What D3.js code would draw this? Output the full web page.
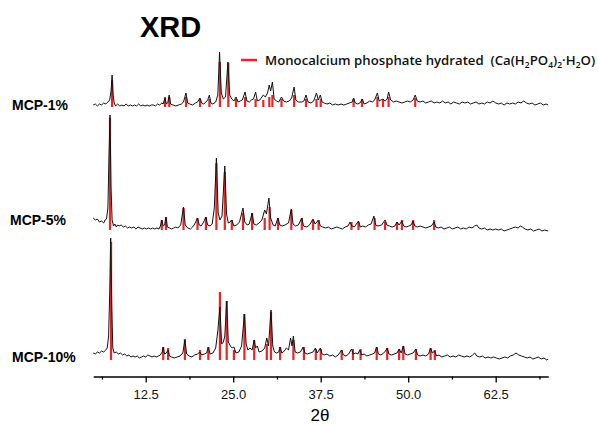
<!DOCTYPE html>
<html>
<head>
<meta charset="utf-8">
<script src="https://cdnjs.cloudflare.com/ajax/libs/d3/7.8.5/d3.min.js"></script>
<style>
  body { margin: 0; background: #fff; }
</style>
</head>
<body>
<div id="chart"></div>
<script>
// XRD patterns, intensity in a.u. relative to each pattern's baseline
var labels = ["MCP-1%", "MCP-5%", "MCP-10%"];
var offsets = [271.5, 148.5, 20.5];

var mcp1 = [[5.0,0],[5.3,1],[5.6,-1],[5.9,1],[6.2,0],[6.5,2],[6.8,1],[7.1,3],[7.35,5],[7.55,14],[7.7,30],[7.85,10],[8.0,2],[8.2,-1],[8.5,1],[8.8,-1],[9.1,0],[9.4,-1],[9.7,1],[10.0,-1],[10.3,0],[10.6,-1],[10.9,0],[11.2,-1],[11.5,1],[11.8,-1],[12.1,0],[12.4,-1],[12.7,0],[13.0,-1],[13.3,0],[13.6,0],[13.9,-1],[14.2,1],[14.5,0],[14.8,2],[15.0,1],[15.25,7],[15.45,1],[15.65,2],[15.85,10],[16.05,1],[16.4,0],[16.8,-1],[17.2,0],[17.6,1],[17.9,3],[18.25,12],[18.5,2],[18.8,1],[19.2,0],[19.6,2],[19.9,3],[20.25,7],[20.5,2],[20.8,1],[21.1,3],[21.35,5],[21.6,10],[21.8,2],[22.1,1],[22.5,3],[22.8,10],[23.05,53],[23.3,12],[23.6,6],[23.9,8],[24.25,43],[24.5,10],[24.8,6],[25.1,4],[25.4,8],[25.7,3],[26.0,4],[26.3,5],[26.7,13],[26.95,4],[27.3,3],[27.6,5],[27.9,6],[28.2,13],[28.45,4],[28.8,5],[29.3,10],[29.6,8],[29.9,12],[30.15,20],[30.35,14],[30.6,23],[30.85,6],[31.2,4],[31.5,3],[31.9,8],[32.2,4],[32.6,3],[33.0,4],[33.35,7],[33.7,18],[33.95,5],[34.3,3],[34.8,3],[35.1,4],[35.4,10],[35.7,3],[36.1,2],[36.5,4],[36.9,12],[37.15,5],[37.45,10],[37.7,3],[38.0,2],[38.4,1],[38.8,2],[39.2,0],[39.6,1],[40.0,0],[40.4,1],[40.8,0],[41.2,1],[41.6,2],[42.0,3],[42.2,7],[42.45,2],[42.8,1],[43.1,2],[43.45,6],[43.7,1],[44.1,2],[44.5,4],[44.9,3],[45.2,5],[45.6,12],[45.85,4],[46.1,5],[46.4,6],[46.7,4],[47.0,6],[47.2,13],[47.5,5],[47.9,3],[48.3,4],[48.7,3],[49.1,2],[49.5,3],[49.9,4],[50.3,3],[50.7,5],[51.0,10],[51.3,4],[51.7,3],[52.1,4],[52.5,2],[52.9,3],[53.3,4],[53.7,2],[54.1,3],[54.5,2],[54.9,4],[55.3,2],[55.7,3],[56.1,1],[56.5,3],[56.9,2],[57.3,1],[57.7,3],[58.1,2],[58.5,3],[58.9,1],[59.3,2],[59.7,3],[60.1,1],[60.5,2],[60.9,1],[61.3,3],[61.7,2],[62.1,4],[62.5,2],[62.9,1],[63.3,2],[63.7,0],[64.1,2],[64.5,1],[64.9,2],[65.3,1],[65.7,3],[66.1,2],[66.5,4],[66.9,2],[67.3,1],[67.7,2],[68.1,0],[68.5,1],[68.9,2],[69.3,0],[69.7,1],[70.0,0]];

var mcp5 = [[5.0,10],[5.3,8],[5.6,9],[5.9,6],[6.2,7],[6.5,5],[6.7,8],[6.9,9],[7.1,20],[7.25,70],[7.4,113],[7.55,40],[7.7,8],[7.9,2],[8.1,4],[8.3,1],[8.5,3],[8.7,2],[9.0,3],[9.3,1],[9.6,2],[9.9,0],[10.2,1],[10.5,0],[10.8,1],[11.1,-1],[11.4,1],[11.7,0],[12.0,-1],[12.3,0],[12.6,-1],[12.9,0],[13.2,-1],[13.5,0],[13.8,-1],[14.1,0],[14.4,-1],[14.6,2],[14.8,8],[15.0,2],[15.2,3],[15.4,11],[15.6,1],[15.9,0],[16.2,-1],[16.5,0],[16.8,1],[17.1,0],[17.5,3],[17.9,21],[18.15,3],[18.5,0],[18.9,-1],[19.2,1],[19.5,4],[19.9,10],[20.15,3],[20.4,2],[20.7,5],[21.1,11],[21.35,3],[21.7,2],[22.0,4],[22.3,20],[22.6,70],[22.85,15],[23.1,8],[23.4,12],[23.8,62],[24.05,14],[24.3,5],[24.55,6],[24.8,8],[25.1,2],[25.5,3],[25.9,6],[26.4,20],[26.65,6],[27.0,3],[27.3,4],[27.7,15],[27.95,4],[28.3,3],[28.7,5],[29.1,8],[29.5,18],[29.75,14],[30.1,30],[30.35,10],[30.7,3],[31.0,2],[31.4,10],[31.65,3],[32.0,2],[32.4,3],[32.9,5],[33.3,19],[33.55,4],[33.9,2],[34.3,3],[34.8,10],[35.05,2],[35.5,1],[35.9,3],[36.4,9],[36.7,4],[37.2,8],[37.45,2],[37.8,1],[38.2,0],[38.6,1],[39.0,-1],[39.4,0],[39.8,1],[40.2,0],[40.6,-1],[41.0,1],[41.4,2],[41.7,6],[41.95,2],[42.3,1],[42.9,7],[43.15,1],[43.5,2],[43.9,1],[44.3,3],[44.7,4],[45.1,12],[45.35,3],[45.7,2],[46.2,3],[46.7,8],[46.95,3],[47.3,2],[47.7,1],[48.1,2],[48.4,6],[48.7,3],[49.1,7],[49.35,2],[49.7,1],[50.1,2],[50.4,3],[50.7,7],[50.95,2],[51.3,1],[51.7,2],[52.1,1],[52.5,0],[52.9,1],[53.3,2],[53.7,6],[53.95,1],[54.3,0],[54.7,1],[55.1,-1],[55.5,0],[55.9,1],[56.3,-1],[56.7,0],[57.1,1],[57.5,-1],[57.9,0],[58.3,-1],[58.7,1],[59.1,0],[59.5,2],[59.8,3],[60.1,0],[60.5,-1],[60.9,0],[61.3,-2],[61.7,-1],[62.1,-2],[62.5,-1],[62.9,-2],[63.3,-1],[63.7,-3],[64.1,-2],[64.5,-1],[64.9,0],[65.3,1],[65.7,0],[66.0,2],[66.3,1],[66.7,-1],[67.1,-2],[67.5,-1],[67.9,-3],[68.3,-2],[68.7,-1],[69.1,-3],[69.5,-2],[70.0,-3]];

var mcp10 = [[5.0,3],[5.3,2],[5.6,4],[5.9,3],[6.2,5],[6.5,4],[6.8,6],[7.0,8],[7.2,20],[7.35,60],[7.5,118],[7.65,50],[7.8,8],[8.0,3],[8.3,4],[8.6,2],[8.9,3],[9.2,1],[9.5,2],[9.8,0],[10.1,1],[10.4,-1],[10.7,0],[11.0,-1],[11.3,0],[11.6,-2],[11.9,-1],[12.2,0],[12.5,-1],[12.8,1],[13.1,0],[13.4,-1],[13.7,0],[14.0,-1],[14.3,0],[14.6,1],[14.85,4],[15.0,9],[15.2,2],[15.45,3],[15.7,6],[15.9,0],[16.2,-1],[16.6,-2],[17.0,-1],[17.4,0],[17.8,3],[18.1,16],[18.35,2],[18.7,0],[19.1,-1],[19.5,1],[19.9,2],[20.25,4],[20.5,1],[20.9,2],[21.2,3],[21.45,9],[21.7,2],[22.1,3],[22.5,8],[22.8,25],[23.1,49],[23.35,12],[23.6,14],[23.8,20],[24.07,55],[24.3,14],[24.6,10],[24.85,8],[25.1,9],[25.4,3],[25.8,4],[26.2,10],[26.6,42],[26.85,12],[27.1,6],[27.4,8],[27.7,6],[28.0,16],[28.2,8],[28.45,10],[28.7,4],[29.1,5],[29.5,8],[29.8,18],[30.05,10],[30.4,46],[30.65,10],[30.9,4],[31.2,3],[31.5,4],[31.7,9],[31.95,3],[32.3,5],[32.6,8],[32.9,6],[33.2,18],[33.4,10],[33.6,20],[33.85,4],[34.2,3],[34.6,4],[35.0,9],[35.25,3],[35.6,2],[36.0,3],[36.4,4],[36.75,8],[37.0,3],[37.45,8],[37.7,2],[38.0,1],[38.4,2],[38.8,0],[39.2,1],[39.6,-1],[40.0,1],[40.5,6],[40.75,1],[41.1,0],[41.5,2],[41.9,7],[42.15,2],[42.5,3],[42.8,2],[43.1,6],[43.35,1],[43.7,2],[44.1,0],[44.5,1],[44.9,2],[45.2,3],[45.5,9],[45.75,2],[46.1,1],[46.5,3],[46.75,5],[47.0,8],[47.25,2],[47.6,1],[48.0,2],[48.4,3],[48.7,7],[49.0,3],[49.3,10],[49.55,2],[49.9,1],[50.3,2],[50.7,3],[51.1,7],[51.35,1],[51.7,0],[52.1,1],[52.5,0],[52.9,2],[53.2,8],[53.45,3],[53.8,5],[54.05,0],[54.4,1],[54.8,-1],[55.2,0],[55.6,1],[56.0,-1],[56.4,0],[56.8,-1],[57.2,1],[57.6,0],[58.0,-1],[58.4,0],[58.8,-1],[59.2,1],[59.5,3],[59.8,0],[60.2,-1],[60.6,0],[61.0,-2],[61.4,-1],[61.8,-2],[62.2,-1],[62.6,-2],[63.0,-3],[63.4,-2],[63.8,-1],[64.2,-2],[64.6,0],[65.0,1],[65.4,3],[65.8,1],[66.2,0],[66.6,-1],[67.0,-2],[67.4,-1],[67.8,-3],[68.2,-2],[68.6,-1],[69.0,-3],[69.4,-2],[69.8,-4],[70.0,-3]];

// reference sticks: [2theta, height]
var sticks1 = [[7.7,25],[15.26,8],[15.87,8],[18.26,8],[20.26,6],[21.6,6],[23.1,43],[24.3,42],[25.4,6],[26.7,8],[28.2,6],[29.3,5],[30.16,8],[30.6,10],[31.9,6],[33.7,10],[35.4,6],[36.9,6],[37.5,6],[42.2,6],[43.4,6],[45.6,8],[46.4,5],[47.2,8],[51.0,7]];
var sticks5 = [[7.4,110],[14.8,8],[15.4,11],[17.9,20],[19.9,10],[21.1,11],[22.6,65],[23.8,56],[24.8,8],[26.4,15],[27.7,15],[29.5,10],[30.2,21],[31.4,10],[33.3,18],[34.8,10],[36.4,8],[37.2,8],[41.9,6],[42.9,6],[45.2,10],[46.7,6],[48.4,6],[49.1,8],[50.7,8],[53.7,8]];
var sticks10 = [[7.55,114],[15.0,9],[15.7,8],[18.1,17],[20.26,6],[21.45,9],[23.1,64],[24.07,55],[25.1,6],[26.6,42],[28.0,16],[29.8,12],[30.4,44],[31.7,9],[33.6,16],[35.1,9],[36.8,7],[37.5,7],[40.5,6],[42.1,7],[43.2,7],[45.5,9],[47.0,8],[48.7,7],[49.3,10],[51.1,7],[53.2,8],[53.8,6]];
var stickDrop = [2, 2, 4];

var majorTicks = [12.5, 25.0, 37.5, 50.0, 62.5];
var minorTicks = [6.25, 18.75, 31.25, 43.75, 56.25, 68.75];

var width = 598, height = 426;

var svg = d3.select("#chart")
  .append("svg")
  .attr("width", width)
  .attr("height", height);

var xScale = d3.scaleLinear().domain([5, 70]).range([93.2, 548.2]);
var yScale = d3.scaleLinear().domain([0, 340]).range([376.5, 36.5]);

var traces = [mcp1, mcp5, mcp10];
var sticks = [sticks1, sticks5, sticks10];

// red reference sticks
traces.forEach(function(t, i) {
  svg.append("g")
    .selectAll("line")
    .data(sticks[i])
    .enter()
    .append("line")
      .attr("x1", function(d) { return xScale(d[0]); })
      .attr("x2", function(d) { return xScale(d[0]); })
      .attr("y1", yScale(offsets[i] - stickDrop[i]))
      .attr("y2", function(d) { return yScale(offsets[i] + d[1]); })
      .style("stroke", "#e8262a")
      .style("stroke-width", 2.2);
});

// patterns
var line = d3.line()
  .x(function(d) { return xScale(d[0]); });

traces.forEach(function(t, i) {
  svg.append("path")
    .datum(t)
    .attr("d", line.y(function(d) { return yScale(d[1] + offsets[i]); }))
    .style("fill", "none")
    .style("stroke", "#111")
    .style("stroke-width", 1);
});

// pattern labels
var labelY = [110, 225, 362];
svg.selectAll(".lbl")
  .data(labels)
  .enter()
  .append("text")
    .attr("x", function(d, i) { return i == 1 ? 10 : 12; })
    .attr("y", function(d, i) { return labelY[i]; })
    .style("font-family", "Liberation Sans, Arial, sans-serif")
    .style("font-weight", "bold")
    .style("font-size", "14px")
    .text(function(d) { return d; });

// axis
var axis = svg.append("g")
  .attr("transform", "translate(0,376.5)")
  .call(d3.axisBottom(xScale).tickValues(majorTicks).tickSize(6).tickSizeOuter(0).tickFormat(d3.format(".1f")));
axis.select(".domain").style("stroke-width", 1.5);
axis.selectAll(".tick line").style("stroke-width", 1.3);
axis.selectAll("text")
  .attr("dy", "0")
  .attr("y", 22)
  .style("font-family", "Liberation Sans, Arial, sans-serif")
  .style("font-size", "13px")
  .style("fill", "#111");

var minor = svg.append("g")
  .attr("transform", "translate(0,376.5)")
  .call(d3.axisBottom(xScale).tickValues(minorTicks).tickSize(3).tickSizeOuter(0).tickFormat(""));
minor.select(".domain").remove();
minor.selectAll(".tick line").style("stroke-width", 1.3);

// x label
svg.append("text")
  .attr("x", 320)
  .attr("y", 421)
  .attr("text-anchor", "middle")
  .style("font-family", "Liberation Sans, Arial, sans-serif")
  .style("font-size", "17px")
  .text("2\u03b8");

// title
svg.append("text")
  .attr("x", 140)
  .attr("y", 37)
  .style("font-family", "Liberation Sans, Arial, sans-serif")
  .style("font-weight", "bold")
  .style("font-size", "29px")
  .text("XRD");

// legend
svg.append("line")
  .attr("x1", 241).attr("x2", 257)
  .attr("y1", 60).attr("y2", 60)
  .style("stroke", "#e8262a")
  .style("stroke-width", 2.5);

var leg = svg.append("text")
  .attr("x", 265)
  .attr("y", 65)
  .style("font-family", "Open Sans, sans-serif")
  .style("font-weight", 600)
  .style("font-size", "13.2px")
  .style("fill", "#111");
leg.append("tspan").text("Monocalcium phosphate hydrated \u00a0(Ca(H");
leg.append("tspan").attr("dy", 3).style("font-size", "8.5px").text("2");
leg.append("tspan").attr("dy", -3).text("PO");
leg.append("tspan").attr("dy", 3).style("font-size", "8.5px").text("4");
leg.append("tspan").attr("dy", -3).text(")");
leg.append("tspan").attr("dy", 3).style("font-size", "8.5px").text("2");
leg.append("tspan").attr("dy", -3).text("\u00b7H");
leg.append("tspan").attr("dy", 3).style("font-size", "8.5px").text("2");
leg.append("tspan").attr("dy", -3).text("O)");
</script>
</body>
</html>
